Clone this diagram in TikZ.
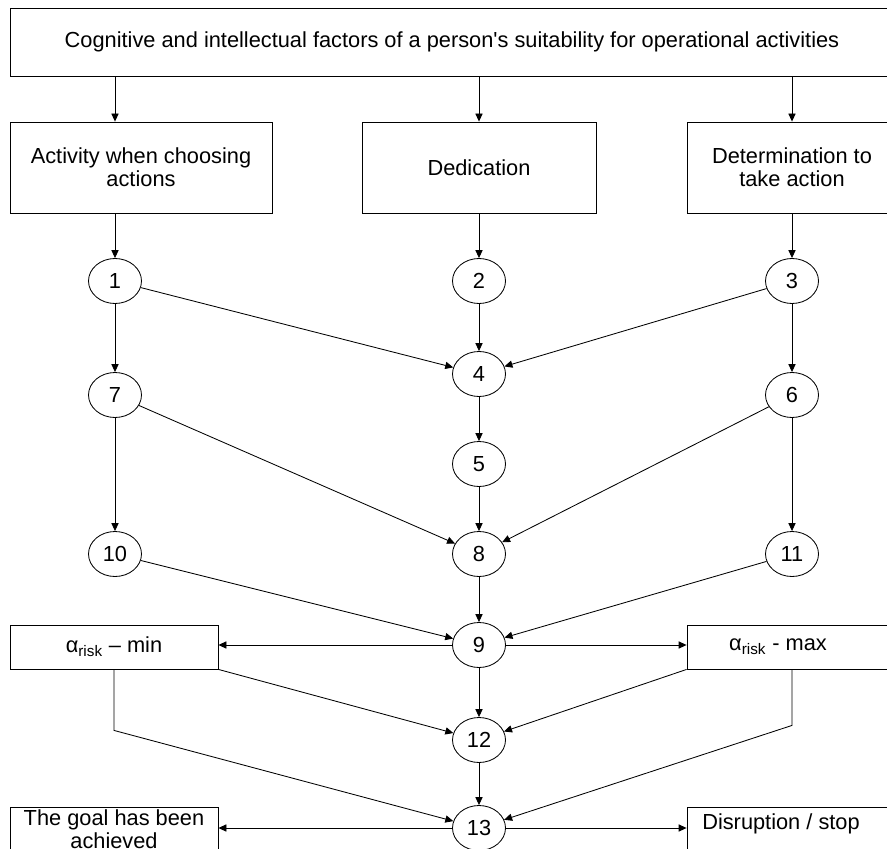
\documentclass[tikz,border=0pt]{standalone}
\usepackage{fontspec}
\setmainfont{Liberation Sans}
\usetikzlibrary{shapes.geometric,arrows.meta}

\tikzset{
  box/.style={draw, rectangle, inner sep=0pt, align=center},
  num/.style={draw, ellipse, minimum width=13.25mm, minimum height=11.25mm, inner sep=0pt},
  arr/.style={-{Triangle[length=2mm,width=1.8mm]}}
}

\begin{document}
\begin{tikzpicture}[x=0.25mm, y=-0.25mm, line width=0.6pt, font=\fontsize{15.5}{16.4}\selectfont]
    \useasboundingbox (0,0) rectangle (887,849);

    % Top box
    \node (top) [box, minimum width=221mm, minimum height=17mm] at (452,42)
        {Cognitive and intellectual factors of a person\textquotesingle s suitability for operational activities};

    % Factors
    \node (act) [box, minimum width=65.5mm, minimum height=22.75mm] at (141,167.5) {Activity when choosing\\actions};
    \node (ded) [box, minimum width=58.5mm, minimum height=22.75mm] at (479,167.5) {Dedication};
    \node (det) [box, minimum width=52.5mm, minimum height=22.75mm] at (792,167.5) {Determination to\\take action};

    % Numbered states
    \foreach \n/\x/\y in {1/115/281, 2/479/281, 3/792/281, 4/479/374, 7/115/395, 6/792/395,
        5/479/464, 10/115/554, 8/479/554, 11/792/554, 9/479/645, 12/479/740, 13/479/828}
        \node (n\n) [num] at (\x,\y) {\n};

    % Risk boxes
    \node (min) [box, minimum width=52mm, minimum height=11mm] at (114,647) {α\textsubscript{risk} – min};
    \node (max) [box, minimum width=52.5mm, minimum height=11mm,
        label={[name=maxtxt, xshift=-3.5mm]center:α\textsubscript{risk} - max}] at (792,647) {};

    % Outcomes
    \node (goal) [box, minimum width=52mm, minimum height=11mm] at (114,829) {The goal has been\\achieved};
    \node (stop) [box, minimum width=52.5mm, minimum height=11mm,
        label={[name=stoptxt, xshift=-2.75mm, yshift=1.25mm]center:Disruption / stop}] at (792,829) {};

    % From top box down to the first states
    \foreach \b/\n in {act/1, ded/2, det/3} {
        \draw[arr] (top.south -| n\n) -- (\b.north -| n\n);
        \draw[arr] (\b.south -| n\n) -- (n\n);
    }

    % Between states
    \foreach \a/\b in {1/7, 1/4, 2/4, 3/4, 3/6, 4/5, 5/8, 7/8, 6/8, 7/10, 6/11, 10/9, 8/9, 11/9, 9/12, 12/13}
        \draw[arr] (n\a) -- (n\b);

    % Risk
    \draw[arr] (n9.west) -- (n9.west -| min.east);
    \draw[arr] (n9.east) -- (n9.east -| max.west);
    \draw[arr] (min.south east) -- (n12);
    \draw[arr] (max.south west) -- (n12);
    \draw[arr] (min.south) -- ++(0,61) -- (n13);
    \draw[arr] (max.south) -- ++(0,56) -- (n13);

    % Outcome
    \draw[arr] (n13.west) -- (n13.west -| goal.east);
    \draw[arr] (n13.east) -- (n13.east -| stop.west);
\end{tikzpicture}
\end{document}
